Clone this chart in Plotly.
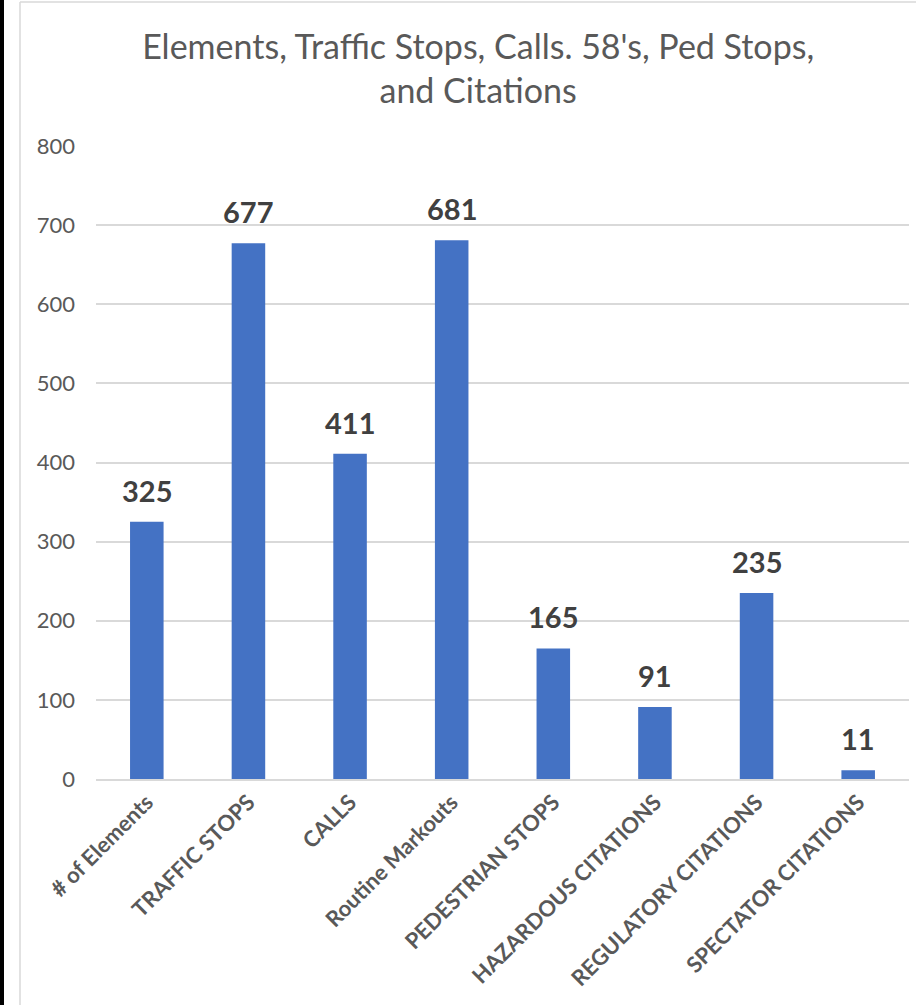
import plotly.graph_objects as go

categories = ["# of Elements", "TRAFFIC STOPS", "CALLS", "Routine Markouts",
              "PEDESTRIAN STOPS", "HAZARDOUS CITATIONS", "REGULATORY CITATIONS",
              "SPECTATOR CITATIONS"]
values = [325, 677, 411, 681, 165, 91, 235, 11]
y_ticks = [0, 100, 200, 300, 400, 500, 600, 700, 800]

title_text = "Elements, Traffic Stops, Calls. 58's, Ped Stops,<br>and Citations"

FONT = "Lato"
BAR = "#4472C4"

W, H = 916, 1005
ML, MR, MT, MB = 96, 7, 146, 226
PW, PH = W - ML - MR, H - MT - MB


def px_x(px):
    return (px - ML) / PW


def px_y(py):
    return 1 - (py - MT) / PH


fig = go.Figure()
fig.add_trace(go.Bar(
    x=categories, y=values, marker=dict(color=BAR, line=dict(width=0)),
    width=0.33, hoverinfo="skip",
))

annotations = [
    dict(x=c, y=v, xref="x", yref="y", text=f"<b>{v}</b>", showarrow=False,
         yanchor="bottom", yshift=12,
         font=dict(family=FONT, size=29, color="#404040"))
    for c, v in zip(categories, values)
]

shapes = [
    dict(type="line", xref="paper", yref="paper", x0=px_x(2), x1=px_x(2),
         y0=px_y(H), y1=px_y(0), line=dict(color="#000000", width=4)),
    dict(type="line", xref="paper", yref="paper", x0=px_x(20), x1=px_x(20),
         y0=px_y(H), y1=px_y(2), line=dict(color="#d9d9d9", width=1.5)),
    dict(type="line", xref="paper", yref="paper", x0=px_x(20), x1=px_x(W),
         y0=px_y(2), y1=px_y(2), line=dict(color="#d9d9d9", width=1.5)),
]

fig.update_layout(
    width=W, height=H,
    paper_bgcolor="white", plot_bgcolor="white",
    margin=dict(l=ML, r=MR, t=MT, b=MB),
    title=dict(text=title_text, x=0.522, xanchor="center", y=0.941, yanchor="top",
               font=dict(family=FONT, size=34, color="#595959")),
    font=dict(family=FONT),
    showlegend=False,
    annotations=annotations,
    shapes=shapes,
    xaxis=dict(
        tickangle=-45, showgrid=False, showline=True, linecolor="#d9d9d9", linewidth=1.5,
        ticks="", tickfont=dict(family=FONT, size=22, color="#595959", weight="bold"),
        fixedrange=True,
    ),
    yaxis=dict(
        range=[0, 800], tickvals=y_ticks, showgrid=True, gridcolor="#d9d9d9", gridwidth=1.5,
        zeroline=False, showline=False, ticks="", ticklabelstandoff=20,
        tickfont=dict(family=FONT, size=22, color="#595959"),
        fixedrange=True,
    ),
)

fig.write_html("out.html", config={"displayModeBar": False},
               post_script="document.body.style.margin='0px';")
